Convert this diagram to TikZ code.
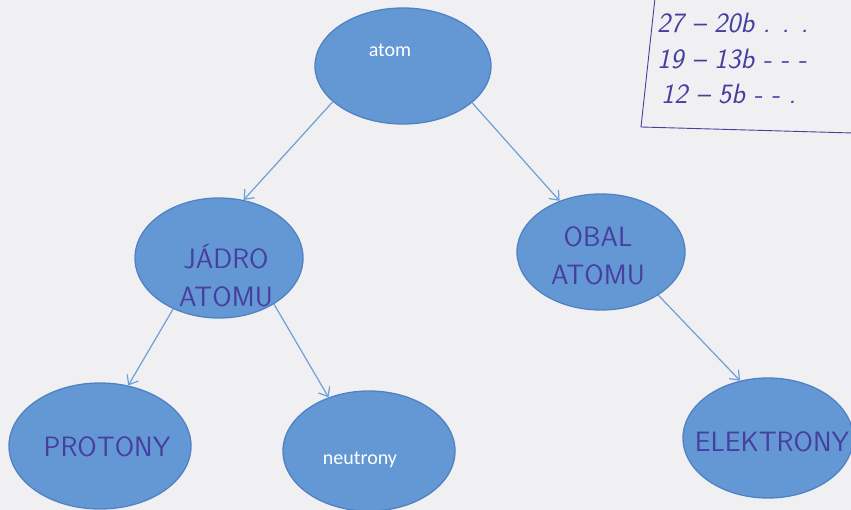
\documentclass[tikz,border=0pt]{standalone}
\usepackage{fontspec}
\newfontfamily\typed{Carlito}
\usetikzlibrary{shapes.geometric,arrows.meta}
\definecolor{bg}{RGB}{240,240,243}
\definecolor{fillb}{RGB}{100,152,212}
\definecolor{edgeb}{RGB}{80,130,195}
\definecolor{arrowb}{RGB}{112,158,214}
\definecolor{ink}{RGB}{72,62,160}
\begin{document}
\begin{tikzpicture}[x=1pt,y=-1pt,
  bubble/.style={ellipse,draw=edgeb,fill=fillb,line width=1.3pt,inner sep=0pt},
  conn/.style={draw=arrowb,line width=1.2pt,-{Straight Barb[length=8pt,width=13pt]}},
  hand/.style={text=ink,font=\sffamily\fontsize{28}{38}\selectfont,align=center,inner sep=0pt},
  handnum/.style={text=ink,font=\sffamily\itshape\fontsize{28}{30}\selectfont,anchor=west,inner sep=0pt},
  typedtxt/.style={text=white,font=\typed\fontsize{20}{22}\selectfont,inner sep=0pt}]
\fill[bg] (0,0) rectangle (851,510);
\useasboundingbox (0,0) rectangle (851,510);

% bubbles
\node[bubble,minimum width=176pt,minimum height=116pt] (atom) at (403,66) {};
\node[bubble,minimum width=168pt,minimum height=120pt] (jadro) at (219,258) {};
\node[bubble,minimum width=168pt,minimum height=116pt] (obal) at (601,252) {};
\node[bubble,minimum width=182pt,minimum height=126pt] (protony) at (100,446) {};
\node[bubble,minimum width=172pt,minimum height=120pt] (neutrony) at (369,451) {};
\node[bubble,minimum width=170pt,minimum height=120pt] (elektrony) at (768,438) {};

% texts
\node[typedtxt] (atomtext) at (390,50) {atom};
\node[typedtxt] (neutronytext) at (360,460) {neutrony};
\node[hand] (jadrotext) at (226,276) {JÁDRO\\ATOMU};
\node[hand] (obaltext) at (598,256) {OBAL\\ATOMU};
\node[hand] (protonytext) at (107,447) {PROTONY};
\node[hand] (elektronytext) at (772,442) {ELEKTRONY};

% connectors
\draw[conn] (atom.207) -- (jadro.67);
\draw[conn] (atom.332) -- (obal.129);
\draw[conn] (jadro.228) -- (protony.65);
\draw[conn] (jadro.320) -- (neutrony.127);
\draw[conn] (obal.323) -- (elektrony.116);

% scoring box (top right)
\draw[ink,line width=0.9pt] (655,-2) -- (641,127) -- (853,133);
\node[handnum] (r1) at (657,23) {27 -- 20b . . .};
\node[handnum] (r2) at (657,59) {19 -- 13b - - -};
\node[handnum] (r3) at (661,94) {12 -- 5b - - .};
\end{tikzpicture}
\end{document}
